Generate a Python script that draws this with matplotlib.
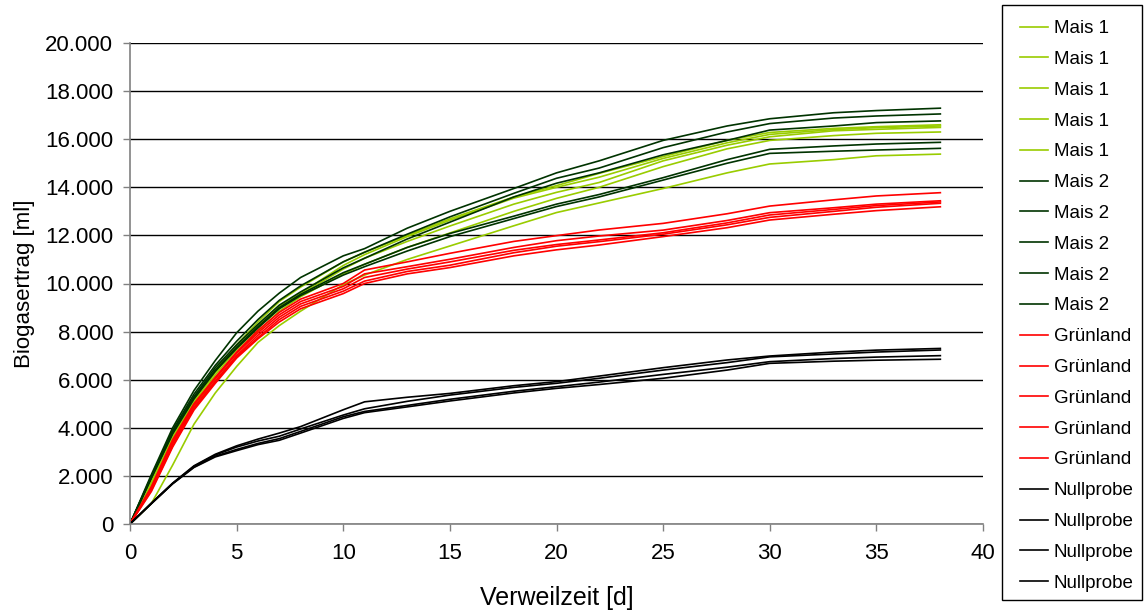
import matplotlib
matplotlib.use("Agg")
import matplotlib.pyplot as plt
from matplotlib.ticker import FuncFormatter, MultipleLocator
from matplotlib.patches import Rectangle

plt.rcParams['font.family'] = ['Liberation Sans', 'DejaVu Sans']

# Verweilzeit [d]
days = [0, 1, 2, 3, 4, 5, 6, 7, 8, 10, 11, 13, 15, 18, 20, 22, 25, 28, 30, 33, 35, 38]

mais1 = [
    [0, 1800, 3650, 5150, 6400, 7450, 8400, 9250, 9850, 10900, 11300, 12000, 12690, 13600, 14070, 14580, 15280, 15950, 16280, 16450, 16520, 16600],
    [0, 1750, 3600, 5050, 6300, 7350, 8250, 9050, 9600, 10750, 11200, 11950, 12630, 13550, 14000, 14420, 15200, 15850, 16200, 16400, 16480, 16550],
    [0, 1700, 3500, 4950, 6200, 7250, 8150, 8950, 9550, 10600, 11050, 11750, 12390, 13300, 13790, 14200, 15100, 15750, 16100, 16350, 16410, 16490],
    [0, 1650, 3400, 4850, 6050, 7100, 8000, 8850, 9450, 10400, 10800, 11500, 12100, 13000, 13540, 14000, 14860, 15600, 15950, 16150, 16245, 16300],
    [0, 850, 2450, 4150, 5450, 6550, 7550, 8250, 8850, 9950, 10350, 11000, 11560, 12400, 12950, 13350, 13950, 14600, 14970, 15150, 15310, 15380],
]

mais2 = [
    [0, 2050, 4000, 5550, 6800, 7950, 8850, 9600, 10250, 11150, 11450, 12300, 13000, 13950, 14600, 15100, 15950, 16550, 16850, 17100, 17190, 17290],
    [0, 1980, 3900, 5400, 6600, 7600, 8500, 9300, 9900, 10900, 11300, 12050, 12770, 13750, 14375, 14800, 15650, 16300, 16650, 16880, 16965, 17050],
    [0, 1950, 3820, 5300, 6500, 7450, 8300, 9100, 9650, 10650, 11050, 11850, 12550, 13600, 14170, 14600, 15350, 15950, 16380, 16550, 16690, 16760],
    [0, 1930, 3780, 5250, 6400, 7350, 8200, 9000, 9550, 10450, 10800, 11500, 12080, 12800, 13300, 13700, 14400, 15150, 15580, 15720, 15800, 15870],
    [0, 1900, 3750, 5200, 6350, 7300, 8150, 8950, 9500, 10350, 10700, 11350, 11950, 12700, 13200, 13600, 14300, 15000, 15410, 15500, 15550, 15620],
]

gruenland = [
    [0, 1550, 3500, 5000, 6100, 7150, 8050, 8800, 9350, 10000, 10560, 10900, 11255, 11750, 11990, 12225, 12500, 12900, 13220, 13480, 13640, 13776],
    [0, 1500, 3400, 4950, 6050, 7100, 7950, 8700, 9250, 9880, 10400, 10700, 11007, 11500, 11780, 11975, 12220, 12620, 12945, 13150, 13300, 13440],
    [0, 1450, 3350, 4850, 5950, 7000, 7850, 8600, 9150, 9780, 10250, 10600, 10897, 11380, 11620, 11810, 12110, 12520, 12850, 13080, 13240, 13390],
    [0, 1400, 3250, 4800, 5900, 6950, 7750, 8500, 9050, 9680, 10100, 10500, 10760, 11280, 11550, 11740, 12050, 12440, 12750, 13000, 13170, 13335],
    [0, 1350, 3200, 4740, 5850, 6900, 7700, 8400, 8950, 9580, 10000, 10400, 10662, 11150, 11400, 11600, 11950, 12320, 12640, 12880, 13030, 13190],
]

nullprobe = [
    [0, 870, 1700, 2420, 2900, 3250, 3530, 3780, 4050, 4750, 5080, 5270, 5430, 5750, 5920, 6150, 6500, 6820, 6985, 7150, 7230, 7300],
    [0, 860, 1690, 2400, 2870, 3200, 3450, 3650, 3950, 4530, 4790, 5100, 5360, 5680, 5850, 6060, 6400, 6710, 6950, 7070, 7150, 7235],
    [0, 850, 1680, 2370, 2820, 3100, 3350, 3550, 3850, 4460, 4680, 4930, 5185, 5520, 5710, 5900, 6220, 6520, 6750, 6880, 6940, 7000],
    [0, 840, 1670, 2350, 2790, 3050, 3300, 3480, 3780, 4390, 4630, 4870, 5115, 5450, 5640, 5800, 6060, 6400, 6680, 6770, 6810, 6850],
]

groups = [
    ("Mais 1", "#99CC00", mais1),
    ("Mais 2", "#003300", mais2),
    ("Grünland", "#FF0000", gruenland),
    ("Nullprobe", "#000000", nullprobe),
]

W, H = 1144, 610
fig = plt.figure(figsize=(W / 100, H / 100), dpi=100)
ax = fig.add_axes([130 / W, 1 - 524 / H, (983 - 130) / W, (524 - 43) / H])

for label, color, series in groups:
    for vals in series:
        ax.plot(days, vals, color=color, lw=1.2, label=label, solid_joinstyle='round')

ax.set_xlim(0, 40)
ax.set_ylim(0, 20000)
ax.xaxis.set_major_locator(MultipleLocator(5))
ax.yaxis.set_major_locator(MultipleLocator(2000))
ax.yaxis.set_major_formatter(FuncFormatter(lambda v, p: f"{int(round(v)):,}".replace(",", ".")))

ax.grid(axis='y', color='black', lw=1.0)
ax.set_axisbelow(True)
for s in ['top', 'right']:
    ax.spines[s].set_visible(False)
for s in ['left', 'bottom']:
    ax.spines[s].set_color('#808080')
    ax.spines[s].set_linewidth(1.2)
ax.tick_params(axis='both', direction='out', length=5, width=1, color='#808080', labelsize=16)
ax.tick_params(axis='x', pad=9)
ax.tick_params(axis='y', pad=7)

ax.set_xlabel("Verweilzeit [d]", fontsize=18, labelpad=15.5)
ax.set_ylabel("Biogasertrag [ml]", fontsize=16, labelpad=7)

# legend frame
fig.patches.append(Rectangle((1002 / W, 1 - 600 / H), (1142 - 1002) / W, (600 - 5) / H,
                             transform=fig.transFigure, fill=True, facecolor='white',
                             edgecolor='black', lw=1.0, zorder=0))
leg = fig.legend(loc='upper left', bbox_to_anchor=(1020 / W, 1 - 20 / H), fontsize=13.5,
                 handlelength=1.49, labelspacing=0.73, handletextpad=0.32,
                 borderpad=0, frameon=False, borderaxespad=0)

fig.savefig("out.png", dpi=100)
